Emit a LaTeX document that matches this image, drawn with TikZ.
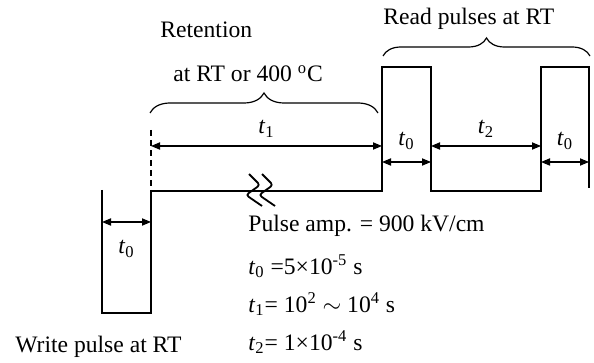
\documentclass[tikz,border=0pt]{standalone}
\usepackage{fontspec}
\setmainfont{Liberation Serif}
\usetikzlibrary{
	arrows.meta,
	positioning,
	decorations.pathreplacing
}

\begin{document}
\begin{tikzpicture}[
    x=0.5pt, y=-0.5pt,
    font=\fontsize{11.8}{14}\selectfont,
    wave/.style={line width=1.3pt, line join=miter},
    dim/.style={line width=0.55pt, {Triangle[length=4.5pt,width=3.6pt]}-{Triangle[length=4.5pt,width=3.6pt]}},
    bracegrp/.style={line width=0.6pt, decorate, decoration={brace, amplitude=#1}},
    tlabel/.style={inner sep=0pt},
    txt/.style={anchor=base west, inner sep=0pt}
]
\useasboundingbox (0,0) rectangle (594,363);

% Waveform corners
\coordinate (w1) at (102,190);
\coordinate (w2) at (102,313);
\coordinate (w3) at (151,313);
\coordinate (w4) at (151,191);
\coordinate (r1) at (382,191);
\coordinate (r2) at (382,67);
\coordinate (r3) at (431,67);
\coordinate (r4) at (431,191);
\coordinate (r5) at (541,191);
\coordinate (r6) at (541,67);
\coordinate (r7) at (589,67);
\coordinate (r8) at (589,188);
\coordinate (dtop) at (151,130);

% Waveform
\draw[wave] (w1) -- (w2) -- (w3) -- (w4) -- (r1) -- (r2) -- (r3) -- (r4) -- (r5) -- (r6) -- (r7) -- (r8);
\draw[line width=0.6pt, dash pattern=on 3pt off 2pt] (dtop) -- (w4);

% Break mark
\foreach \bx in {250,263}
  \draw[line width=0.9pt, rounded corners=1.5pt] (\bx-1,174) -- (\bx+10,185) -- (\bx-4,195) -- (\bx+12,206);

% Dimension arrows
\draw[dim] (102,222) -- node[tlabel, below=9pt] {\textit{t}\textsubscript{0}} (151,222);
\draw[dim] (151,146) -- node[tlabel, above=4pt] {\textit{t}\textsubscript{1}} (382,146);
\draw[dim] (382,162) -- node[tlabel, above=6pt] {\textit{t}\textsubscript{0}} (431,162);
\draw[dim] (431,146) -- node[tlabel, above=4pt] {\textit{t}\textsubscript{2}} (541,146);
\draw[dim] (541,162) -- node[tlabel, above=6pt] {\textit{t}\textsubscript{0}} (589,162);

% Braces
\draw[bracegrp=10pt] (150,113) -- (378,113);
\draw[bracegrp=9pt] (383,56) -- (590,56);

% Texts
\node[txt] (retention) at (160,38) {Retention};
\node[txt] (retcond) at (173,82) {at RT or 400 \textsuperscript{o}C};
\node[txt] (readlbl) at (383,25) {Read pulses at RT};
\node[txt] (writelbl) at (15,352) {Write pulse at RT};
\node[txt] (amp) at (248,232) {Pulse amp. = 900 kV/cm};
\node[txt] (tzero) at (248,274) {\textit{t}\textsubscript{0} =5×10\textsuperscript{-5} s};
\node[txt] (tone) at (248,312) {\textit{t}\textsubscript{1}= 10\textsuperscript{2} $\sim$ 10\textsuperscript{4} s};
\node[txt] (ttwo) at (248,350) {\textit{t}\textsubscript{2}= 1×10\textsuperscript{-4} s};

\end{tikzpicture}
\end{document}
